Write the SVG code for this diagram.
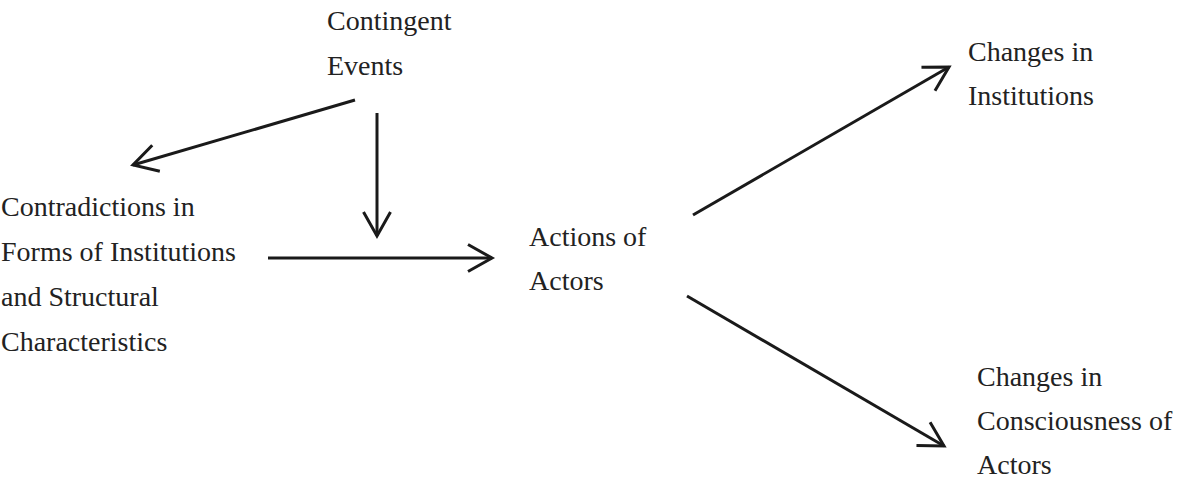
<svg xmlns="http://www.w3.org/2000/svg" width="1184" height="480" viewBox="0 0 1184 480">
<style>
text { font-family: "Liberation Serif", "Times New Roman", serif; font-size: 28px; fill: #222; }
.c { stroke: #1a1a1a; stroke-width: 3; fill: none; }
</style>
<defs>
<marker id="ah" markerUnits="userSpaceOnUse" viewBox="-30 -16 32 32" markerWidth="32" markerHeight="32" refX="0" refY="0" orient="auto" overflow="visible">
<path d="M-24,-13.5 L0,0 L-24,13.5" fill="none" stroke="#1a1a1a" stroke-width="3" stroke-linejoin="miter"/>
</marker>
</defs>
<rect width="1184" height="480" fill="#fff"/>
<g id="connectors">
<line class="c" x1="355" y1="100" x2="133" y2="165" marker-end="url(#ah)"/>
<line class="c" x1="377" y1="113" x2="377" y2="236" marker-end="url(#ah)"/>
<line class="c" x1="268" y1="258" x2="492" y2="258" marker-end="url(#ah)"/>
<line class="c" x1="693" y1="215" x2="949" y2="67" marker-end="url(#ah)"/>
<line class="c" x1="687" y1="296" x2="944" y2="446" marker-end="url(#ah)"/>
</g>
<g id="contingent-events">
<text x="327" y="30">Contingent</text>
<text x="327" y="75">Events</text>
</g>
<g id="contradictions">
<text x="1" y="216">Contradictions in</text>
<text x="1" y="261">Forms of Institutions</text>
<text x="1" y="306">and Structural</text>
<text x="1" y="351">Characteristics</text>
</g>
<g id="actions">
<text x="529" y="246">Actions of</text>
<text x="529" y="290">Actors</text>
</g>
<g id="changes-institutions">
<text x="968" y="61">Changes in</text>
<text x="968" y="105">Institutions</text>
</g>
<g id="changes-consciousness">
<text x="977" y="386">Changes in</text>
<text x="977" y="430">Consciousness of</text>
<text x="977" y="474">Actors</text>
</g>
</svg>
